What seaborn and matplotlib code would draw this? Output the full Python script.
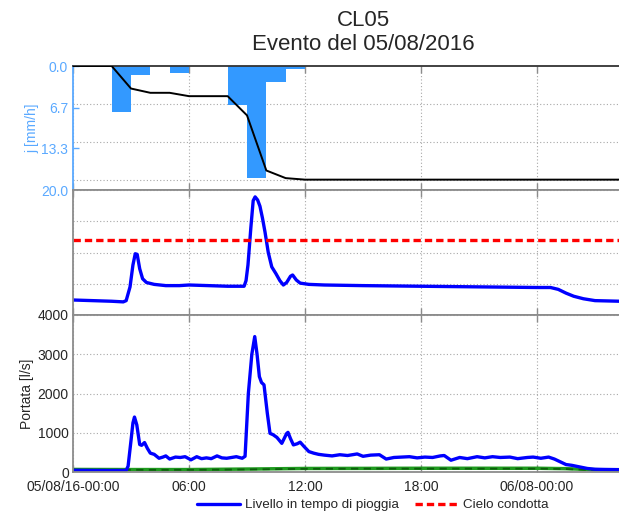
import numpy as np
import pandas as pd
import matplotlib
matplotlib.use("Agg")
import matplotlib.pyplot as plt
from matplotlib.ticker import FixedLocator, NullFormatter
import seaborn as sns

# ---- data -------------------------------------------------------------
# hourly rain intensity j [mm/h]; bin k covers hour k..k+1 from 05/08/16 00:00
rain_hour = list(range(30))
rain_j = [0.0, 0.0, 7.4, 1.4, 0.0, 1.1, 0.0, 0.0, 6.3, 18.1, 2.5, 0.5,
          0.0, 0.0, 0.0, 0.0, 0.0, 0.0, 0.0, 0.0, 0.0, 0.0, 0.0, 0.0,
          0.0, 0.0, 0.0, 0.0, 0.0, 0.0]

# water level during the rain event [m]
level_t = [0.0, 1.0, 2.0, 2.6, 2.75, 2.95, 3.1, 3.22, 3.32, 3.45, 3.6, 3.8,
           4.2, 4.8, 5.5, 6.0, 7.0, 8.0, 8.85, 8.95, 9.05, 9.2, 9.32, 9.42,
           9.55, 9.67, 9.8, 9.93, 10.1, 10.28, 10.5, 10.7, 10.88, 11.05,
           11.25, 11.36, 11.55, 11.75, 12.2, 13.0, 15.0, 18.0, 21.0, 24.0,
           24.7, 25.1, 25.5, 25.9, 26.4, 27.0, 28.3, 30.0]
level_m = [0.24, 0.23, 0.22, 0.21, 0.23, 0.45, 0.80, 0.98, 0.97, 0.74, 0.58,
           0.52, 0.49, 0.47, 0.47, 0.48, 0.47, 0.46, 0.46, 0.55, 0.80, 1.40,
           1.83, 1.89, 1.84, 1.74, 1.55, 1.33, 1.00, 0.77, 0.66, 0.55, 0.48,
           0.52, 0.62, 0.64, 0.56, 0.51, 0.49, 0.48, 0.47, 0.46, 0.45, 0.44,
           0.44, 0.41, 0.35, 0.30, 0.26, 0.23, 0.22, 0.21]
crown_level_m = 1.2

# discharge [l/s]
flow_t = [0.0, 1.0, 2.0, 2.75, 2.85, 3.0, 3.1, 3.18, 3.3, 3.45, 3.55, 3.7,
          3.85, 4.0, 4.2, 4.45, 4.65, 4.8, 5.0, 5.3, 5.55, 5.8, 6.1, 6.4,
          6.65, 6.9, 7.15, 7.45, 7.7, 7.95, 8.2, 8.45, 8.75, 8.9, 9.07, 9.25,
          9.4, 9.52, 9.64, 9.75, 9.88, 10.05, 10.19, 10.35, 10.55, 10.8,
          11.05, 11.12, 11.25, 11.4, 11.6, 11.75, 11.95, 12.2, 12.45, 12.7,
          13.0, 13.4, 13.8, 14.2, 14.7, 15.0, 15.4, 15.85, 16.2, 16.6, 17.0,
          17.4, 17.8, 18.2, 18.6, 19.0, 19.2, 19.55, 20.0, 20.4, 20.9, 21.3,
          21.7, 22.1, 22.6, 23.0, 23.5, 23.8, 24.2, 24.6, 24.9, 25.2, 25.5,
          25.8, 26.2, 26.6, 27.0, 27.5, 28.3, 30.0]
flow_ls = [45, 40, 38, 40, 150, 800, 1250, 1400, 1200, 700, 680, 750,
           600, 480, 450, 350, 380, 410, 330, 380, 370, 390, 310, 390,
           340, 360, 340, 410, 360, 350, 370, 390, 350, 400, 2000, 3000,
           3450, 3000, 2430, 2280, 2220, 1500, 985, 950, 880, 730,
           980, 1010, 850, 690, 720, 760, 650, 520, 480, 450,
           430, 410, 440, 420, 460, 400, 430, 440, 330, 370, 380,
           390, 360, 380, 370, 410, 420, 300, 370, 340, 390, 360,
           390, 370, 380, 340, 370, 380, 350, 380, 330, 260, 190,
           170, 130, 90, 70, 65, 60, 55]

# dry-weather discharge [l/s]
dry_t = [0, 3, 6, 9, 12, 15, 18, 21, 24, 25.5, 27, 28.3, 30]
dry_ls = [65, 62, 62, 75, 90, 92, 95, 95, 95, 85, 60, 45, 40]
dry2_ls = [55, 55, 55, 65, 80, 85, 85, 85, 85, 75, 50, 35, 30]

hour_ticks = [0, 6, 12, 18, 24, 30]
hour_labels = ["05/08/16-00:00", "06:00", "12:00", "18:00", "06/08-00:00", ""]
j_ticks = [0.0, 6.7, 13.3, 20.0]
cum_grid = [12.5, 25.0, 37.5]
flow_ticks = [0, 1000, 2000, 3000, 4000]

# ---- style ------------------------------------------------------------
sns.set_style("white")
plt.rcParams["font.family"] = ["Liberation Sans", "DejaVu Sans"]
plt.rcParams["font.size"] = 10

rain_color = "#3399ff"
j_color = "#5aa9ff"
spine_gray = "#8c8c8c"
grid_kw = dict(color="#a8a8a8", linestyle=(0, (1, 2)), linewidth=0.8)

W, H = 619, 512
fig = plt.figure(figsize=(W / 100, H / 100), dpi=100)
left = 73 / W
width = (653 - 73) / W
ax_rain = fig.add_axes([left, 1 - 190 / H, width, 124 / H])
ax_lev = fig.add_axes([left, 1 - 315 / H, width, 125 / H])
ax_q = fig.add_axes([left, 1 - 472 / H, width, 157 / H])

xmax = 30.0
for ax in (ax_rain, ax_lev, ax_q):
    ax.set_xlim(0, xmax)
    ax.set_xticks(hour_ticks)
    ax.tick_params(axis="x", direction="in", top=True, bottom=True,
                   length=5, width=1, color=spine_gray)
    ax.tick_params(axis="y", direction="in", length=4, width=1, color=spine_gray)
    ax.xaxis.grid(True, **grid_kw)
    for s in ax.spines.values():
        s.set_color(spine_gray)
        s.set_linewidth(1.3)
    ax.set_axisbelow(True)

# ---- rain panel ---------------------------------------------------------
rain_df = pd.DataFrame({"hour": np.asarray(rain_hour, dtype=float) + 0.5,
                        "j": rain_j})
sns.histplot(data=rain_df, x="hour", weights="j", binwidth=1, binrange=(0, 30),
             color=rain_color, alpha=1.0, linewidth=0, ax=ax_rain)
ax_rain.set_ylim(20, 0)
ax_rain.set_yticks(j_ticks)
ax_rain.set_yticklabels([f"{v:.1f}" for v in j_ticks], color=j_color, fontsize=10)
ax_rain.tick_params(axis="y", colors=j_color)
ax_rain.set_ylabel("j [mm/h]", color=j_color, fontsize=10, labelpad=1)
ax_rain.set_xlabel("")
ax_rain.set_xticklabels([])
ax_rain.spines["left"].set_color(j_color)
ax_rain.spines["top"].set_color("#333333")

cum = np.concatenate([[0.0], np.cumsum(rain_j)])
cum_df = pd.DataFrame({"hour": np.arange(len(cum)), "cum": cum})
ax_cum = ax_rain.twinx()
sns.lineplot(data=cum_df, x="hour", y="cum", color="black", linewidth=1.4,
             ax=ax_cum)
cum_top = 40.7
ax_cum.set_ylim(cum_top, 0)
ax_cum.set_xlim(0, xmax)
ax_cum.set_yticks([])
ax_cum.set_ylabel("")
for s in ax_cum.spines.values():
    s.set_visible(False)
# horizontal grid follows the cumulative-rain scale
ax_rain.yaxis.set_minor_locator(FixedLocator([v / cum_top * 20 for v in cum_grid]))
ax_rain.yaxis.set_minor_formatter(NullFormatter())
ax_rain.tick_params(axis="y", which="minor", length=0)
ax_rain.yaxis.grid(True, which="minor", **grid_kw)
ax_rain.yaxis.grid(False, which="major")

# ---- level panel --------------------------------------------------------
lev_df = pd.DataFrame({"hour": level_t, "level": level_m})
sns.lineplot(data=lev_df, x="hour", y="level", color="#0000ff", linewidth=2.4,
             ax=ax_lev, label="Livello in tempo di pioggia", legend=False)
ax_lev.axhline(crown_level_m, color="#ff0000", linewidth=2.4,
               linestyle=(0, (2.2, 1.2)), label="Cielo condotta")
ax_lev.set_ylim(0, 2.0)
ax_lev.set_yticks([0, 0.5, 1.0, 1.5, 2.0])
ax_lev.set_yticklabels([])
ax_lev.yaxis.grid(True, **grid_kw)
ax_lev.set_xticklabels([])
ax_lev.set_xlabel("")
ax_lev.set_ylabel("")

# ---- discharge panel ----------------------------------------------------
dry_df = pd.DataFrame({"hour": dry_t, "q": dry_ls, "q2": dry2_ls})
sns.lineplot(data=dry_df, x="hour", y="q", color="#1f9a1f", linewidth=2.5, ax=ax_q)
sns.lineplot(data=dry_df, x="hour", y="q2", color="#0b5e0b", linewidth=1.3,
             linestyle=(0, (4, 3)), ax=ax_q)
q_df = pd.DataFrame({"hour": flow_t, "q": flow_ls})
sns.lineplot(data=q_df, x="hour", y="q", color="#0000ff", linewidth=2.4, ax=ax_q)
ax_q.set_ylim(0, 4000)
ax_q.set_yticks(flow_ticks)
ax_q.set_yticklabels([str(v) for v in flow_ticks], fontsize=10,
                     va="center_baseline")
ax_q.yaxis.grid(True, **grid_kw)
ax_q.set_xticklabels(hour_labels, fontsize=10)
ax_q.tick_params(axis="x", pad=6)
ax_q.tick_params(axis="y", pad=3)
ax_q.set_xlabel("")
ax_q.set_ylabel("Portata [l/s]", fontsize=10, labelpad=3)

# ---- title & legend -----------------------------------------------------
fig.text(left + width / 2, 1 - 20 / H, "CL05", ha="center", va="center", fontsize=16)
fig.text(left + width / 2, 1 - 45 / H, "Evento del 05/08/2016", ha="center",
         va="center", fontsize=16)

handles, labels = ax_lev.get_legend_handles_labels()
fig.legend(handles, labels, loc="center", bbox_to_anchor=(373 / W, 1 - 505 / H),
           ncol=2, frameon=False, fontsize=9.6, handlelength=3.2,
           columnspacing=1.2, handletextpad=0.4)

fig.savefig("out.png", dpi=100)
